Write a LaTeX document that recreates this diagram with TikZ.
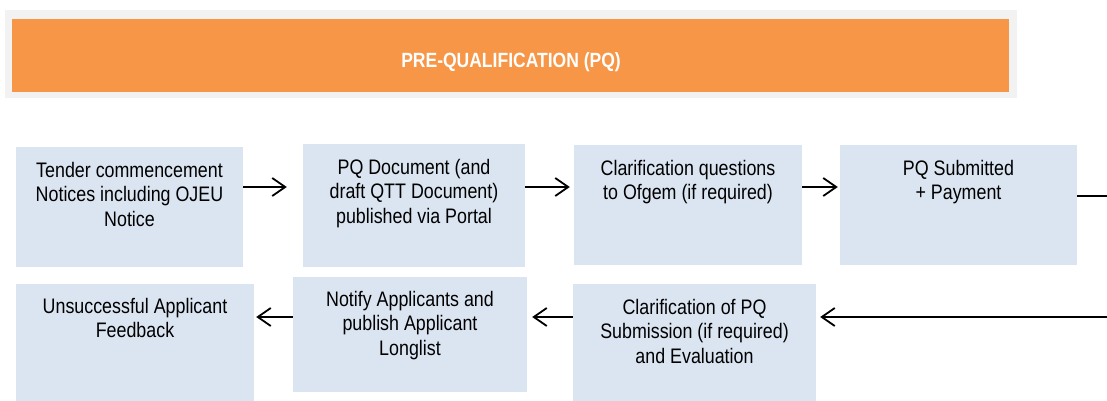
\documentclass[tikz,border=0pt]{standalone}
\usepackage{fontspec}
\setmainfont[FakeStretch=0.85]{Liberation Sans}
\usetikzlibrary{positioning}
\usetikzlibrary{calc}
\usetikzlibrary{arrows.meta}
\definecolor{pqorange}{HTML}{F79646}
\definecolor{pqgrey}{HTML}{F2F2F2}
\definecolor{pqblue}{HTML}{DBE5F1}
\tikzset{%
  flow/.style = {-{Straight Barb[length=13pt,width=18pt,line width=1.8pt]},
        line width=1.8pt},
  b/.style = {rectangle,fill=pqblue,inner sep=0pt},
  txt/.style = {inner sep=0pt,align=center,
        font=\fontsize{21}{24.5}\selectfont},
  hdrbg/.style = {rectangle,fill=pqgrey,inner sep=0pt},
  hdr/.style = {rectangle,fill=pqorange,inner sep=0pt},
  title/.style = {inner sep=0pt,text=white,
        font=\fontsize{20.6}{24}\selectfont\bfseries}
}
\begin{document}
\begin{tikzpicture}[x=1pt,y=-1pt]
    \clip (0,0) rectangle (1107,401);
    \node[hdrbg, minimum width=1012pt, minimum height=88pt] (hdrbg) at (511,54) {};
    \node[hdr, minimum width=997pt, minimum height=73pt] (hdr) at (510.5,55.5) {};
    \node[title] (title) at (511,62.5) {PRE-QUALIFICATION (PQ)};

    \node[b, minimum width=227pt, minimum height=120pt] (tender) at (129.5,207) {};
    \node[b, minimum width=222pt, minimum height=123pt] (pqdoc) at (414,205.5) {};
    \node[b, minimum width=228pt, minimum height=120pt] (questions) at (688,205) {};
    \node[b, minimum width=237pt, minimum height=120pt] (submitted) at (958.5,205) {};
    \node[b, minimum width=238pt, minimum height=117pt] (feedback) at (135,342.5) {};
    \node[b, minimum width=234pt, minimum height=115pt] (notify) at (410,334.5) {};
    \node[b, minimum width=243pt, minimum height=117pt] (evaluation) at (694.5,342.5) {};

    \node[txt, below=15pt of tender.north] (tendertxt)
        {Tender commencement\\Notices including OJEU\\Notice};
    \node[txt, below=15pt of pqdoc.north] (pqdoctxt)
        {PQ Document (and\\draft QTT Document)\\published via Portal};
    \node[txt, below=15pt of questions.north] (questionstxt)
        {Clarification questions\\to Ofgem (if required)};
    \node[txt, below=15pt of submitted.north] (submittedtxt)
        {PQ Submitted\\+ Payment};
    \node[txt, below=14pt of feedback.north] (feedbacktxt)
        {Unsuccessful Applicant\\Feedback};
    \node[txt, below=14pt of notify.north] (notifytxt)
        {Notify Applicants and\\publish Applicant\\Longlist};
    \node[txt, below=15pt of evaluation.north] (evaluationtxt)
        {Clarification of PQ\\Submission (if required)\\and Evaluation};

    \coordinate (upper) at (0,187);
    \coordinate (lower) at (0,317);
    \coordinate (outa) at (1125,196);
    \coordinate (outb) at (1125,317);
    \draw[flow, shorten >=16pt] (tender.east |- upper) -- (pqdoc.west |- upper);
    \draw[flow, shorten >=4pt] (pqdoc.east |- upper) -- (questions.west |- upper);
    \draw[flow, shorten >=2pt] (questions.east |- upper) -- (submitted.west |- upper);
    \draw[flow, shorten >=4pt] (submitted.east |- outa) -- (outa) -- (outb)
        -- (evaluation.east |- outb);
    \draw[flow, shorten >=5pt] (evaluation.west |- lower) -- (notify.east |- lower);
    \draw[flow, shorten >=2pt] (notify.west |- lower) -- (feedback.east |- lower);
\end{tikzpicture}
\end{document}
